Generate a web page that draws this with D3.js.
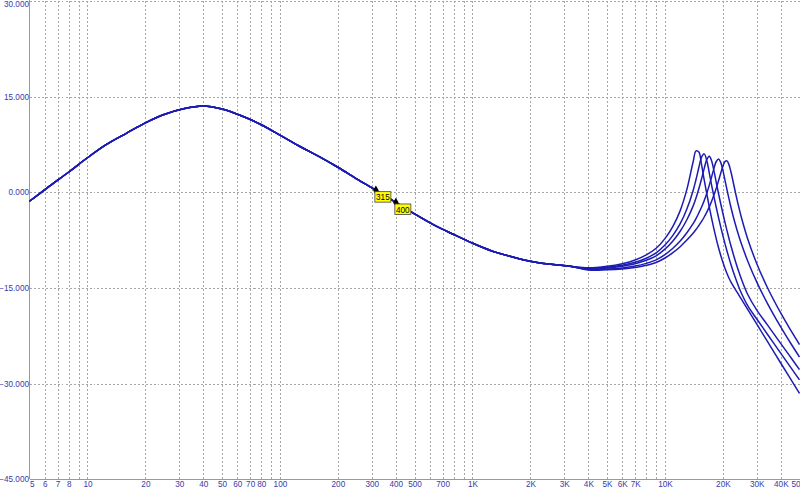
<!DOCTYPE html>
<html>
<head>
<meta charset="utf-8">
<script src="https://cdn.jsdelivr.net/npm/d3@7"></script>
<style>
html,body{margin:0;padding:0;background:#fff;}
svg{display:block;}
text{font-family:"Liberation Sans",Arial,sans-serif;}
</style>
</head>
<body>
<svg id="chart" width="800" height="491"></svg>
<script>
// ---- data ----
const lowFreqs = [5,6.3,8,10,12.5,16,20,25,31.5,40,50,63,80,100,125,160,200,250,315,400,500,630,800,1000,1250,1600,2000,2500,3150];
const lowDb    = [-1.4,0.88,3.19,5.42,7.47,9.29,10.9,12.2,13.1,13.55,13.05,12.0,10.6,8.97,7.3,5.61,3.93,2.1,0.34,-1.59,-3.38,-5.11,-6.62,-7.97,-9.15,-10.1,-10.8,-11.25,-11.56];

const highFreqs = [4000,5000,6000,7000,8000,9000,10000,11000,12000,13000,14000,14500,15000,15500,16000,16500,17000,17500,18000,18500,19000,19500,20000,20500,21000,21500,22000,23000,24000,25000,27000,30000,34000,40000,45000,50000];
const highDb1 = [-11.84,-11.60,-11.19,-10.61,-9.81,-8.77,-7.26,-5.34,-2.87,0.46,4.75,6.5,6.31,4.29,1.9,-0.25,-2.31,-4.17,-5.86,-7.37,-8.72,-9.91,-10.98,-11.92,-12.73,-13.43,-14.03,-15.02,-15.93,-16.8,-18.44,-20.68,-23.34,-26.8,-29.3,-31.54];
const highDb2 = [-11.94,-11.76,-11.44,-10.97,-10.33,-9.49,-8.26,-6.75,-4.92,-2.62,0.25,2.01,3.90,5.52,6.03,4.95,3.02,1.02,-0.79,-2.46,-4.01,-5.45,-6.79,-8.05,-9.2,-10.28,-11.28,-13.06,-14.58,-15.87,-17.86,-19.87,-22.21,-25.25,-27.45,-29.41];
const highDb3 = [-12.01,-11.88,-11.61,-11.21,-10.66,-9.95,-8.90,-7.62,-6.11,-4.30,-2.16,-0.89,0.56,2.12,3.76,5.16,5.66,4.88,3.28,1.45,-0.26,-1.83,-3.32,-4.72,-6.01,-7.21,-8.35,-10.38,-12.15,-13.67,-16.1,-18.47,-20.75,-23.72,-25.87,-27.8];
const highDb4 = [-12.11,-12.04,-11.86,-11.56,-11.14,-10.60,-9.76,-8.76,-7.63,-6.33,-4.92,-4.12,-3.23,-2.31,-1.28,-0.13,1.13,2.49,3.83,4.87,5.22,4.66,3.43,1.92,0.42,-1.00,-2.30,-4.58,-6.50,-8.16,-10.88,-14.08,-17.36,-21.14,-23.67,-25.82];
const highDb5 = [-12.18,-12.15,-12.02,-11.79,-11.45,-11.01,-10.30,-9.46,-8.53,-7.49,-6.43,-5.84,-5.20,-4.57,-3.87,-3.11,-2.28,-1.37,-0.36,0.70,1.86,3.03,4.10,4.82,4.93,4.34,3.26,0.60,-1.89,-4.02,-7.43,-11.19,-14.88,-18.96,-21.62,-23.87];

const yTicks = [30,15,0,-15,-30,-45];
const xGridFreqs = [6,7,8,9,10,20,30,40,50,60,70,80,90,100,200,300,400,500,600,700,800,900,1000,2000,3000,4000,5000,6000,7000,8000,9000,10000,20000,30000,40000,50000];
const xLabelFreqs = [5,6,7,8,10,20,30,40,50,60,70,80,100,200,300,400,500,700,1000,2000,3000,4000,5000,6000,7000,10000,20000,30000,40000,50000];
const markerFreqs = [315,400];
const markerLabels = ["315","400"];

// ---- build ----
const series = [highDb1,highDb2,highDb3,highDb4,highDb5].map(h =>
  lowFreqs.map((f,i)=>({f, db: lowDb[i]})).concat(highFreqs.map((f,i)=>({f, db: h[i]})))
);

const svg = d3.select("#chart");
const W = 800;
const pLeft = 29.5, pRight = 799.5, pTop = 1, pBottom = 479.3;

const x = d3.scaleLog().domain([5,50000]).range([pLeft,pRight]);
const y = d3.scaleLinear().domain([-45,30]).range([pBottom,pTop]);

const gridColor = "#a6a6a6";
const textColor = "#3a3aa8";
const fontSize = "8.2px";

// vertical grid
const gx = svg.append("g").attr("transform",`translate(0,${pBottom})`)
  .call(d3.axisBottom(x).tickValues(xGridFreqs).tickSize(-(pBottom-pTop+1)).tickFormat(""));
gx.select(".domain").remove();
gx.selectAll("line").attr("stroke",gridColor).attr("stroke-dasharray","2,2").attr("shape-rendering","crispEdges");

// horizontal grid
const gy = svg.append("g").attr("transform",`translate(${pLeft},0)`)
  .call(d3.axisRight(y).tickValues(yTicks.filter(v=>v>-45)).tickSize(pRight-pLeft).tickFormat(""));
gy.select(".domain").remove();
gy.selectAll("line").attr("stroke",gridColor).attr("stroke-dasharray","2,2").attr("shape-rendering","crispEdges");

// axis lines
svg.append("line").attr("x1",pLeft).attr("x2",pLeft).attr("y1",0).attr("y2",pBottom)
  .attr("stroke","#9a9a9a").attr("shape-rendering","crispEdges");
svg.append("line").attr("x1",pLeft).attr("x2",W).attr("y1",pBottom).attr("y2",pBottom)
  .attr("stroke","#9a9a9a").attr("shape-rendering","crispEdges");

// y labels
const yl = svg.append("g").attr("transform",`translate(${pLeft-0.5},0)`)
  .call(d3.axisLeft(y).tickValues(yTicks).tickSize(0).tickPadding(0).tickFormat(d=>d3.format(".3f")(d)));
yl.select(".domain").remove();
yl.selectAll("text").attr("fill",textColor).attr("font-size",fontSize);
yl.selectAll(".tick").filter(d=>d===30).select("text").attr("dy","0.75em").attr("y",-0.5);

// x labels
const fmtX = f => f>=1000 ? (f/1000)+"K" : String(f);
const xl = svg.append("g").attr("transform",`translate(0,${pBottom})`)
  .call(d3.axisBottom(x).tickValues(xLabelFreqs).tickSize(0).tickPadding(2).tickFormat(fmtX));
xl.select(".domain").remove();
xl.selectAll("text").attr("fill",textColor).attr("font-size",fontSize);
xl.selectAll(".tick").filter(d=>d===5).select("text").attr("text-anchor","start").attr("x",0);
xl.selectAll(".tick").filter(d=>d===50000).select("text").attr("text-anchor","start").attr("x",-8.5);

// curves
const line = d3.line().x(d=>x(d.f)).y(d=>y(d.db)).curve(d3.curveCatmullRom.alpha(0.5));
svg.append("g").selectAll("path").data(series).join("path")
  .attr("d",line).attr("fill","none").attr("stroke","#1c1cb4").attr("stroke-width",1.5);

// markers
markerFreqs.forEach((f,i)=>{
  const db = lowDb[lowFreqs.indexOf(f)];
  const px = x(f), py = y(db);
  svg.append("path").attr("d",d3.symbol(d3.symbolDiamond,26)()).attr("transform",`translate(${px},${py})`).attr("fill","#000");
  svg.append("rect").attr("x",px-1).attr("y",py+1.5).attr("width",16).attr("height",10.5)
    .attr("fill","#ffff00").attr("stroke","#444").attr("stroke-width",0.8);
  svg.append("text").attr("x",px+7).attr("y",py+10.1).attr("text-anchor","middle")
    .attr("font-size",fontSize).attr("fill","#000").text(markerLabels[i]);
});
</script>
</body>
</html>
